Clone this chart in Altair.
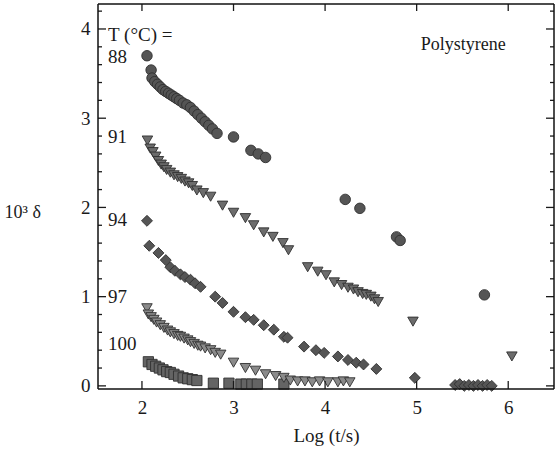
import altair as alt
import pandas as pd

# ---- data ----
x88 = [2.055, 2.10, 2.11, 2.14, 2.17, 2.20, 2.23, 2.26, 2.29, 2.32, 2.35, 2.38, 2.41, 2.45, 2.49,
       2.53, 2.57, 2.61, 2.65, 2.69, 2.73, 2.77, 2.82, 3.00, 3.19, 3.27, 3.35, 4.22, 4.38, 4.78, 4.82, 5.74]
y88 = [3.70, 3.54, 3.45, 3.41, 3.38, 3.35, 3.32, 3.30, 3.28, 3.26, 3.24, 3.22, 3.20, 3.17, 3.15,
       3.12, 3.08, 3.04, 3.00, 2.96, 2.92, 2.88, 2.83, 2.79, 2.64, 2.60, 2.56, 2.09, 1.99, 1.67, 1.63, 1.02]

x91 = [2.06, 2.09, 2.12, 2.15, 2.18, 2.21, 2.24, 2.27, 2.31, 2.35, 2.39, 2.43, 2.47, 2.51, 2.55, 2.60,
       2.67, 2.75, 2.88, 3.00, 3.13, 3.22, 3.33, 3.43, 3.54, 3.60, 3.81, 3.92, 4.01, 4.10, 4.18, 4.25,
       4.31, 4.36, 4.41, 4.45, 4.50, 4.54, 4.58, 4.96, 6.04]
y91 = [2.75, 2.66, 2.62, 2.57, 2.52, 2.48, 2.45, 2.42, 2.39, 2.36, 2.34, 2.32, 2.29, 2.27, 2.24, 2.19,
       2.16, 2.12, 2.02, 1.94, 1.88, 1.80, 1.72, 1.67, 1.60, 1.52, 1.33, 1.28, 1.24, 1.16, 1.13, 1.10,
       1.08, 1.05, 1.03, 1.02, 1.00, 0.97, 0.94, 0.72, 0.33]

x94 = [2.055, 2.08, 2.18, 2.26, 2.31, 2.36, 2.42, 2.47, 2.53, 2.58, 2.64, 2.80, 2.88, 3.00, 3.13, 3.22,
       3.33, 3.44, 3.55, 3.59, 3.77, 3.90, 3.99, 4.14, 4.25, 4.34, 4.42, 4.56, 4.98,
       5.42, 5.47, 5.52, 5.57, 5.62, 5.67, 5.72, 5.77, 5.82]
y94 = [1.85, 1.57, 1.49, 1.41, 1.33, 1.29, 1.25, 1.22, 1.19, 1.15, 1.11, 1.00, 0.93, 0.83, 0.77, 0.74,
       0.68, 0.63, 0.55, 0.54, 0.44, 0.40, 0.37, 0.33, 0.29, 0.26, 0.24, 0.19, 0.09,
       0.01, 0.02, 0.00, 0.01, 0.00, 0.01, 0.00, 0.01, 0.00]

x97 = [2.055, 2.07, 2.10, 2.13, 2.16, 2.20, 2.24, 2.28, 2.31, 2.35, 2.39, 2.42, 2.46, 2.50, 2.53, 2.57,
       2.61, 2.64, 2.69, 2.75, 2.80, 2.86, 3.00, 3.13, 3.24, 3.35, 3.46, 3.55, 3.62, 3.70, 3.78, 3.86,
       3.94, 4.03, 4.14, 4.20, 4.27]
y97 = [0.87, 0.80, 0.77, 0.74, 0.71, 0.68, 0.65, 0.62, 0.60, 0.58, 0.56, 0.55, 0.53, 0.51, 0.49, 0.47,
       0.45, 0.44, 0.42, 0.40, 0.37, 0.35, 0.26, 0.20, 0.17, 0.13, 0.11, 0.09, 0.06, 0.05, 0.05, 0.04,
       0.05, 0.04, 0.04, 0.05, 0.04]

x100 = [2.07, 2.11, 2.15, 2.19, 2.23, 2.27, 2.31, 2.35, 2.40, 2.45, 2.50, 2.55, 2.60, 2.78, 2.95,
        3.08, 3.14, 3.20, 3.26, 3.55]
y100 = [0.27, 0.24, 0.22, 0.20, 0.18, 0.16, 0.15, 0.13, 0.11, 0.09, 0.08, 0.07, 0.06, 0.03, 0.03,
        0.02, 0.02, 0.02, 0.02, 0.02]

temp_labels = ["88", "91", "94", "97", "100"]
temp_label_y = [3.69, 2.79, 1.86, 1.00, 0.47]

x_major = [2, 3, 4, 5, 6]
y_major = [0, 1, 2, 3, 4]
y_minor = [0.2, 0.4, 0.6, 0.8, 1.2, 1.4, 1.6, 1.8, 2.2, 2.4, 2.6, 2.8, 3.2, 3.4, 3.6, 3.8, 4.2]

FONT = "Liberation Serif"
FS = 19
INK = "#1a1a1a"
W, H = 456, 385
xs = alt.Scale(domain=[1.52, 6.5], nice=False, zero=False)
ys = alt.Scale(domain=[-0.035, 4.28], nice=False, zero=False)

xaxis = alt.Axis(values=x_major, format="d", tickSize=0, domain=False, grid=False, labelFont=FONT,
                 labelFontSize=FS, labelColor=INK, labelPadding=9, title="Log (t/s)",
                 titleFont=FONT, titleFontSize=FS, titleFontWeight="normal", titleColor=INK,
                 titlePadding=9)
yaxis = alt.Axis(values=y_major, format="d", tickSize=0, domain=False, grid=False, labelFont=FONT,
                 labelFontSize=FS, labelColor=INK, labelPadding=8, title="10³ δ",
                 titleFont=FONT, titleFontSize=18, titleFontWeight="normal", titleColor=INK,
                 titleAngle=0, titleAlign="left", titleBaseline="middle", titleX=-94, titleY=208)


def series(xv, yv, shape, fill, size):
    df = pd.DataFrame({"x": xv, "y": yv})
    return alt.Chart(df).mark_point(shape=shape, filled=True, size=size, fill=fill,
                                    stroke="#303030", strokeWidth=0.9, opacity=1).encode(
        x=alt.X("x:Q", scale=xs, axis=xaxis),
        y=alt.Y("y:Q", scale=ys, axis=yaxis),
    )


s88 = series(x88, y88, "circle", "#555555", 110)
s91 = series(x91, y91, "triangle-down", "#6c6c6c", 110)
s94 = series(x94, y94, "diamond", "#555555", 120)
s97 = series(x97, y97, "triangle-down", "#8a8a8a", 110)
s100 = series(x100, y100, "square", "#646464", 105)

lab_df = pd.DataFrame({"x": [1.63] * 5, "y": temp_label_y, "t": temp_labels})
labels = alt.Chart(lab_df).mark_text(align="left", baseline="middle", font=FONT, fontSize=FS,
                                     color=INK).encode(
    x=alt.X("x:Q", scale=xs), y=alt.Y("y:Q", scale=ys), text="t:N")

hdr = alt.Chart(pd.DataFrame({"x": [1.63], "y": [3.93], "t": ["T (°C) ="]})).mark_text(
    align="left", baseline="middle", font=FONT, fontSize=FS, color=INK).encode(
    x=alt.X("x:Q", scale=xs), y=alt.Y("y:Q", scale=ys), text="t:N")

poly = alt.Chart(pd.DataFrame({"x": [5.51], "y": [3.82], "t": ["Polystyrene"]})).mark_text(
    align="center", baseline="middle", font=FONT, fontSize=18, color=INK).encode(
    x=alt.X("x:Q", scale=xs), y=alt.Y("y:Q", scale=ys), text="t:N")

xt = pd.DataFrame({"v": x_major})
ytm = pd.DataFrame({"v": y_major})
ytn = pd.DataFrame({"v": y_minor})

bot_ticks = alt.Chart(xt).mark_rule(color=INK, strokeWidth=1.3).encode(
    x=alt.X("v:Q", scale=xs), y=alt.value(H), y2=alt.value(H - 8))
top_ticks = alt.Chart(xt).mark_rule(color=INK, strokeWidth=1.3).encode(
    x=alt.X("v:Q", scale=xs), y=alt.value(0), y2=alt.value(7))
left_major = alt.Chart(ytm).mark_rule(color=INK, strokeWidth=1.3).encode(
    y=alt.Y("v:Q", scale=ys), x=alt.value(0), x2=alt.value(8))
left_minor = alt.Chart(ytn).mark_rule(color=INK, strokeWidth=1.3).encode(
    y=alt.Y("v:Q", scale=ys), x=alt.value(0), x2=alt.value(4))
right_major = alt.Chart(ytm).mark_rule(color=INK, strokeWidth=1.3).encode(
    y=alt.Y("v:Q", scale=ys), x=alt.value(W), x2=alt.value(W - 8))
right_minor = alt.Chart(ytn).mark_rule(color=INK, strokeWidth=1.3).encode(
    y=alt.Y("v:Q", scale=ys), x=alt.value(W), x2=alt.value(W - 4))

# plot frame
frame_h = alt.Chart(pd.DataFrame({"v": [0, H]})).mark_rule(color="#111", strokeWidth=1.5).encode(
    y=alt.Y("v:Q", scale=None), x=alt.value(0), x2=alt.value(W))
frame_v = alt.Chart(pd.DataFrame({"v": [0, W]})).mark_rule(color="#111", strokeWidth=1.5).encode(
    x=alt.X("v:Q", scale=None), y=alt.value(0), y2=alt.value(H))

chart = alt.layer(
    s100, s97, s94, s91, s88, labels, hdr, poly,
    bot_ticks, top_ticks, left_major, left_minor, right_major, right_minor,
    frame_h, frame_v
).properties(
    width=W, height=H,
    autosize=alt.AutoSizeParams(type="none"),
    padding={"left": 98, "top": 4, "right": 4, "bottom": 65},
    background="white",
).configure_view(stroke=None)

chart.save("out.html", embed_options={"renderer": "svg", "actions": False})
